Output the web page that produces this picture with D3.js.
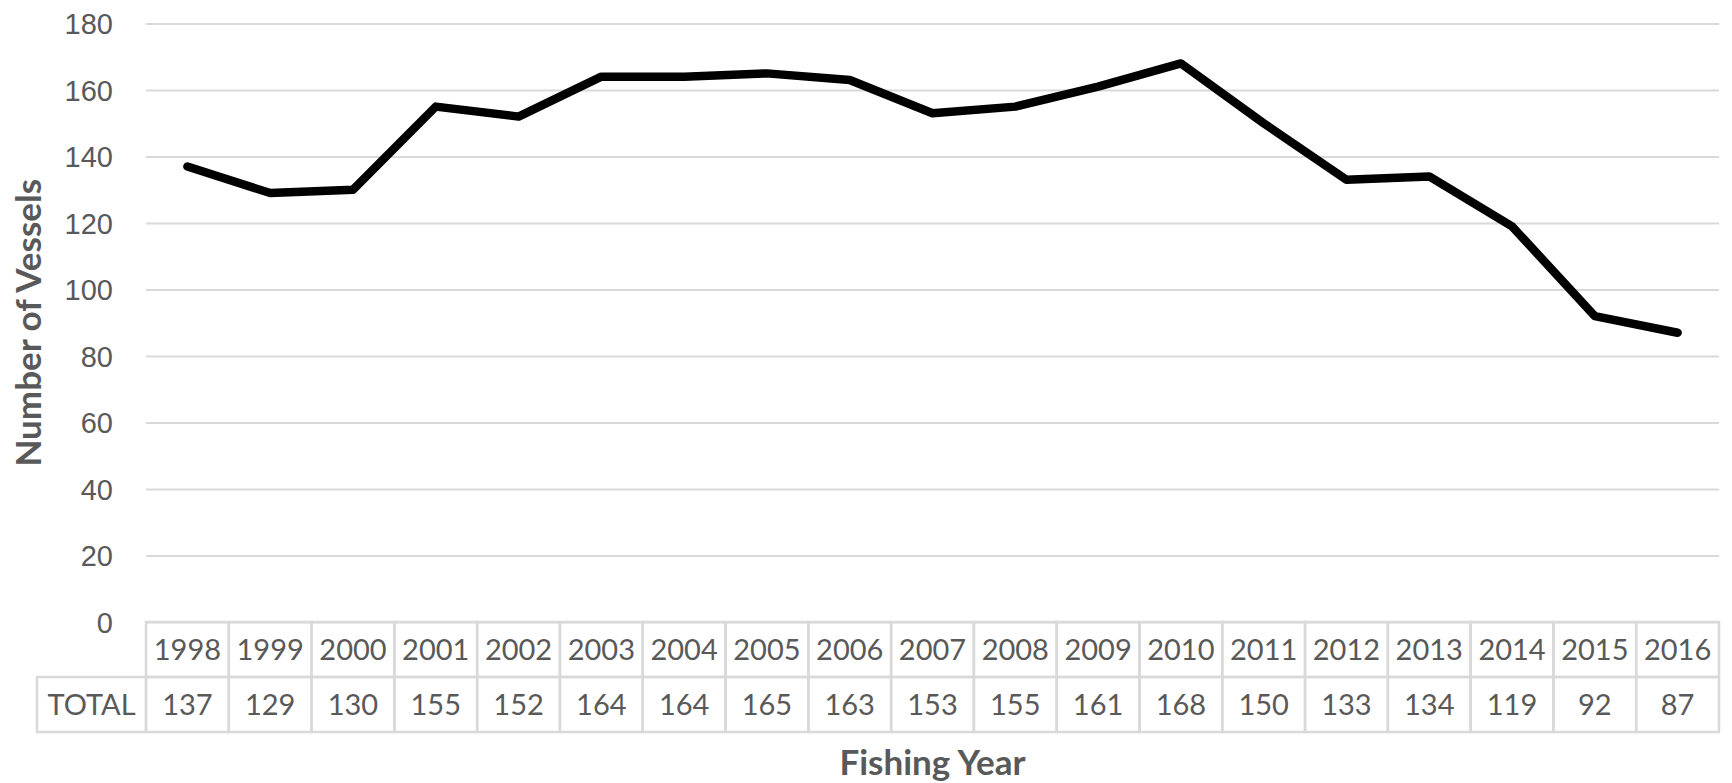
<!DOCTYPE html>
<html>
<head>
<meta charset="utf-8">
<script src="https://cdn.jsdelivr.net/npm/d3@7"></script>
<style>
  body { margin: 0; background: #fff; }
  svg { display: block; font-family: Lato, "Open Sans", sans-serif; }
</style>
</head>
<body>
<div id="chart"></div>
<script>
// DATA ######################################################
const years = ["1998", "1999", "2000", "2001", "2002", "2003", "2004", "2005", "2006", "2007",
               "2008", "2009", "2010", "2011", "2012", "2013", "2014", "2015", "2016"];
const totals = [137, 129, 130, 155, 152, 164, 164, 165, 163, 153, 155, 161, 168, 150, 133, 134, 119, 92, 87];
const yTicks = [0, 20, 40, 60, 80, 100, 120, 140, 160, 180];
const rowLabel = "TOTAL";
const yTitle = "Number of Vessels";
const xTitle = "Fishing Year";

// LAYOUT ####################################################
const width = 1732;
const height = 783;
const plotLeft = 146, plotRight = 1719;
const plotTop = 23.5, plotBottom = 622;
const rowH = 55;
const labelLeft = 37;
const textColor = "#595959";
const gridColor = "#d9d9d9";
const fontSize = 29;
const titleSize = 35;

const svg = d3.select("#chart").append("svg")
    .attr("width", width)
    .attr("height", height);

// SCALES ====================================================
const xScale = d3.scaleBand()
    .domain(years)
    .range([plotLeft, plotRight])
    .padding(0);

const yScale = d3.scaleLinear()
    .domain([0, 180])
    .range([plotBottom, plotTop]);

// GRIDLINES + Y AXIS ----------------------------------------
const yAxis = svg.append("g")
    .attr("transform", `translate(${plotLeft},0)`)
    .call(d3.axisLeft(yScale).tickValues(yTicks).tickSize(-(plotRight - plotLeft)).tickPadding(33));

yAxis.select(".domain").remove();
yAxis.selectAll(".tick line")
    .attr("stroke", gridColor)
    .attr("stroke-width", 2);
yAxis.selectAll(".tick text")
    .attr("fill", textColor)
    .style("font-size", fontSize + "px")
    .attr("dy", "0.36em");

// DATA TABLE ------------------------------------------------
const table = svg.append("g");
const bw = xScale.bandwidth();

// year header cells
table.selectAll("rect.year")
    .data(years)
    .join("rect")
    .attr("class", "year")
    .attr("x", d => xScale(d))
    .attr("y", plotBottom)
    .attr("width", bw)
    .attr("height", rowH)
    .attr("fill", "none")
    .attr("stroke", gridColor)
    .attr("stroke-width", 2.5);

// value cells
table.selectAll("rect.val")
    .data(years)
    .join("rect")
    .attr("class", "val")
    .attr("x", d => xScale(d))
    .attr("y", plotBottom + rowH)
    .attr("width", bw)
    .attr("height", rowH)
    .attr("fill", "none")
    .attr("stroke", gridColor)
    .attr("stroke-width", 2.5);

// row label cell
table.append("rect")
    .attr("x", labelLeft)
    .attr("y", plotBottom + rowH)
    .attr("width", plotLeft - labelLeft)
    .attr("height", rowH)
    .attr("fill", "none")
    .attr("stroke", gridColor)
    .attr("stroke-width", 2.5);

table.selectAll("text.year")
    .data(years)
    .join("text")
    .attr("class", "year")
    .attr("x", d => xScale(d) + bw / 2)
    .attr("y", plotBottom + rowH / 2)
    .attr("dy", "0.36em")
    .attr("text-anchor", "middle")
    .attr("fill", textColor)
    .style("font-size", fontSize + "px")
    .text(d => d);

table.selectAll("text.val")
    .data(totals)
    .join("text")
    .attr("class", "val")
    .attr("x", (d, i) => xScale(years[i]) + bw / 2)
    .attr("y", plotBottom + rowH * 1.5)
    .attr("dy", "0.36em")
    .attr("text-anchor", "middle")
    .attr("fill", textColor)
    .style("font-size", fontSize + "px")
    .text(d => d);

table.append("text")
    .attr("x", (labelLeft + plotLeft) / 2)
    .attr("y", plotBottom + rowH * 1.5)
    .attr("dy", "0.36em")
    .attr("text-anchor", "middle")
    .attr("fill", textColor)
    .style("font-size", fontSize + "px")
    .text(rowLabel);

// LINE ======================================================
const line = d3.line()
    .x((d, i) => xScale(years[i]) + bw / 2)
    .y(d => yScale(d));

svg.append("path")
    .datum(totals)
    .attr("d", line)
    .attr("fill", "none")
    .attr("stroke", "#000")
    .attr("stroke-width", 8.5)
    .attr("stroke-linejoin", "round")
    .attr("stroke-linecap", "round");

// AXIS TITLES -----------------------------------------------
svg.append("text")
    .attr("text-anchor", "middle")
    .attr("transform", `translate(41,${(plotTop + plotBottom) / 2}) rotate(-90)`)
    .attr("fill", textColor)
    .style("font-weight", "bold")
    .style("font-size", titleSize + "px")
    .text(yTitle);

svg.append("text")
    .attr("text-anchor", "middle")
    .attr("x", (plotLeft + plotRight) / 2)
    .attr("y", 775)
    .attr("fill", textColor)
    .style("font-weight", "bold")
    .style("font-size", titleSize + "px")
    .text(xTitle);
</script>
</body>
</html>
